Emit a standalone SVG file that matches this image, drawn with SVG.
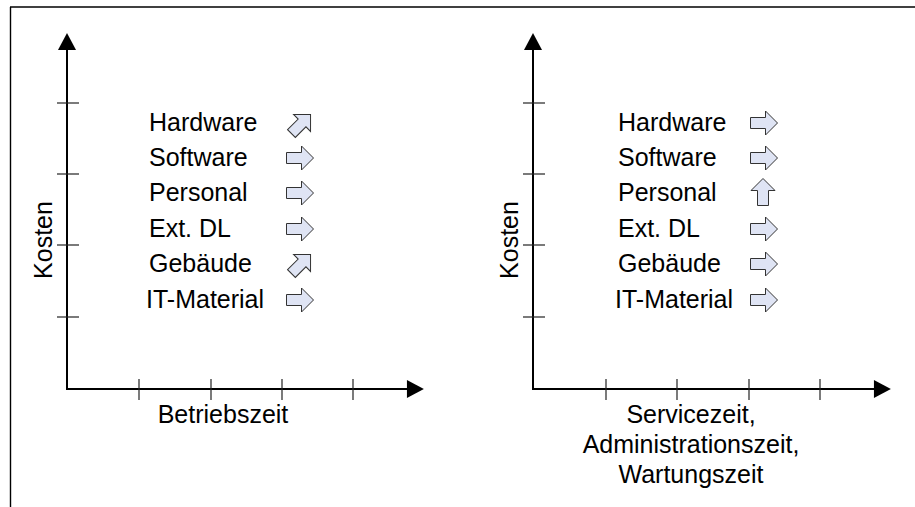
<svg xmlns="http://www.w3.org/2000/svg" xmlns:xlink="http://www.w3.org/1999/xlink" width="915" height="507" viewBox="0 0 915 507">
  <style>
    .frame { stroke: #000; stroke-width: 1.4; fill: none; }
    .axis { stroke: #000; stroke-width: 2; fill: none; }
    .tick { stroke: #222; stroke-width: 1.2; fill: none; }
    .lbl { font-family: "Liberation Sans", Arial, sans-serif; font-size: 25px; fill: #000; }
    .blk { fill: #dfe4f4; stroke: #333; stroke-width: 1; stroke-linejoin: miter; }
  </style>
  <defs>
    <marker id="axhead" markerUnits="userSpaceOnUse" markerWidth="18" markerHeight="18" viewBox="0 0 16 17" refX="1" refY="8.5" orient="auto">
      <path d="M0,0 L16,8.5 L0,17 Z" fill="#000"/>
    </marker>
    <!-- block arrow pointing right, centred on the origin -->
    <path id="blkArrow" class="blk" d="M-13.5,-5.5 L1.5,-5.5 L1.5,-12 L13.5,0 L1.5,12 L1.5,5.5 L-13.5,5.5 Z"/>
  </defs>

  <!-- outer frame (top and left edge) -->
  <g id="frame">
    <line class="frame" x1="10" y1="7" x2="915" y2="7"/>
    <line class="frame" x1="10.5" y1="7" x2="10.5" y2="507"/>
  </g>

  <!-- left chart: Betriebszeit -->
  <g id="chart-betrieb">
    <g id="axes-left">
      <line class="axis" x1="67" y1="390" x2="67" y2="49" marker-end="url(#axhead)"/>
      <line class="axis" x1="66" y1="389" x2="408" y2="389" marker-end="url(#axhead)"/>
      <line class="tick" x1="57" y1="103" x2="79" y2="103"/>
      <line class="tick" x1="57" y1="174" x2="79" y2="174"/>
      <line class="tick" x1="57" y1="245" x2="79" y2="245"/>
      <line class="tick" x1="57" y1="317" x2="79" y2="317"/>
      <line class="tick" x1="139" y1="379" x2="139" y2="400"/>
      <line class="tick" x1="211" y1="379" x2="211" y2="400"/>
      <line class="tick" x1="282" y1="379" x2="282" y2="400"/>
      <line class="tick" x1="353" y1="379" x2="353" y2="400"/>
    </g>
    <text class="lbl" transform="translate(52,240) rotate(-90)" text-anchor="middle">Kosten</text>
    <text class="lbl" x="223" y="423" text-anchor="middle">Betriebszeit</text>
    <g id="items-left">
      <text class="lbl" x="149" y="131">Hardware</text>
      <text class="lbl" x="149" y="166">Software</text>
      <text class="lbl" x="149" y="201">Personal</text>
      <text class="lbl" x="149" y="237">Ext. DL</text>
      <text class="lbl" x="149" y="272">Gebäude</text>
      <text class="lbl" x="146" y="308">IT-Material</text>
      <use xlink:href="#blkArrow" transform="translate(301,124) rotate(-45)"/>
      <use xlink:href="#blkArrow" transform="translate(300,158)"/>
      <use xlink:href="#blkArrow" transform="translate(300,193)"/>
      <use xlink:href="#blkArrow" transform="translate(300,229)"/>
      <use xlink:href="#blkArrow" transform="translate(301,264) rotate(-45)"/>
      <use xlink:href="#blkArrow" transform="translate(300,300)"/>
    </g>
  </g>

  <!-- right chart: Service-, Administrations-, Wartungszeit -->
  <g id="chart-service">
    <g id="axes-right">
      <line class="axis" x1="533" y1="390" x2="533" y2="49" marker-end="url(#axhead)"/>
      <line class="axis" x1="532" y1="389" x2="875" y2="389" marker-end="url(#axhead)"/>
      <line class="tick" x1="523" y1="103" x2="545" y2="103"/>
      <line class="tick" x1="523" y1="174" x2="545" y2="174"/>
      <line class="tick" x1="523" y1="245" x2="545" y2="245"/>
      <line class="tick" x1="523" y1="317" x2="545" y2="317"/>
      <line class="tick" x1="606" y1="379" x2="606" y2="400"/>
      <line class="tick" x1="677" y1="379" x2="677" y2="400"/>
      <line class="tick" x1="749" y1="379" x2="749" y2="400"/>
      <line class="tick" x1="820" y1="379" x2="820" y2="400"/>
    </g>
    <text class="lbl" transform="translate(518,240) rotate(-90)" text-anchor="middle">Kosten</text>
    <text class="lbl" x="691" y="423" text-anchor="middle">Servicezeit,</text>
    <text class="lbl" x="691" y="453" text-anchor="middle">Administrationszeit,</text>
    <text class="lbl" x="691" y="483" text-anchor="middle">Wartungszeit</text>
    <g id="items-right">
      <text class="lbl" x="618" y="131">Hardware</text>
      <text class="lbl" x="618" y="166">Software</text>
      <text class="lbl" x="618" y="201">Personal</text>
      <text class="lbl" x="618" y="237">Ext. DL</text>
      <text class="lbl" x="618" y="272">Gebäude</text>
      <text class="lbl" x="615" y="308">IT-Material</text>
      <use xlink:href="#blkArrow" transform="translate(764,123)"/>
      <use xlink:href="#blkArrow" transform="translate(764,158)"/>
      <use xlink:href="#blkArrow" transform="translate(763,192) rotate(-90)"/>
      <use xlink:href="#blkArrow" transform="translate(764,229)"/>
      <use xlink:href="#blkArrow" transform="translate(764,264)"/>
      <use xlink:href="#blkArrow" transform="translate(764,300)"/>
    </g>
  </g>
</svg>
